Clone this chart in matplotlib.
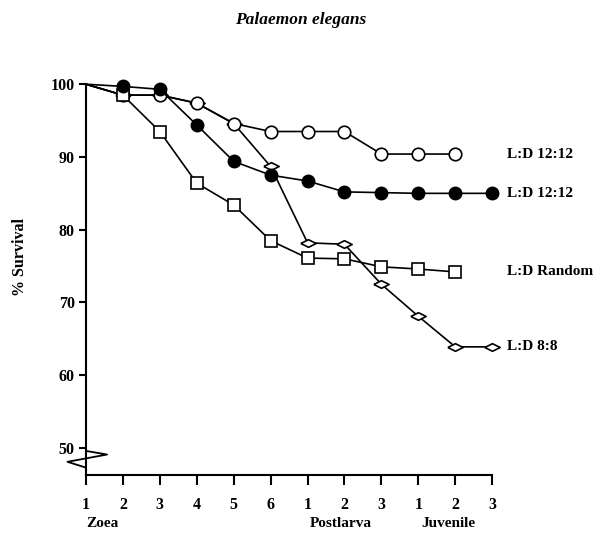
import matplotlib
matplotlib.use("Agg")
import matplotlib.pyplot as plt
import numpy as np

# stages along the x axis
stage = np.arange(1, 13)
tick_labels = ["1", "2", "3", "4", "5", "6", "1", "2", "3", "1", "2", "3"]

# % survival
open_circ = [100, 98.5, 98.5, 97.4, 94.6, 93.5, 93.5, 93.5, 90.4, 90.4, 90.4]
filled_circ = [100, 99.7, 99.3, 94.4, 89.4, 87.5, 86.7, 85.2, 85.1, 85.0, 85.0, 85.0]
squares = [100, 98.5, 93.5, 86.4, 83.4, 78.5, 76.1, 76.0, 74.9, 74.6, 74.2]
diamonds = [100, 98.5, 98.5, 97.4, 94.6, 88.7, 78.2, 78.0, 72.5, 68.1, 63.9, 63.9]

labels = ["L:D 12:12", "L:D 12:12", "L:D Random", "L:D 8:8"]

plt.rcParams['font.family'] = ['Liberation Serif', 'DejaVu Serif']
plt.rcParams['font.weight'] = 'bold'

fig = plt.figure(figsize=(6.01, 5.33), dpi=100)
ax = fig.add_axes([0.143, 0.109, 0.676, 0.733])

# flattened diamond marker
flat_diamond = [(-1, 0), (0, 0.5), (1, 0), (0, -0.5), (-1, 0)]

lw = 1.2
# first point (100 %) is shared, no marker drawn there
ax.plot(stage[:len(diamonds)], diamonds, color='black', lw=lw, marker=flat_diamond,
        ms=11, mfc='white', mec='black', mew=1.2, markevery=slice(1, None),
        clip_on=False, zorder=2)
ax.plot(stage[:len(open_circ)], open_circ, color='black', lw=lw, marker='o',
        ms=9, mfc='white', mec='black', mew=1.2, markevery=slice(1, None),
        clip_on=False, zorder=3)
ax.plot(stage[:len(squares)], squares, color='black', lw=lw, marker='s',
        ms=9, mfc='white', mec='black', mew=1.2, markevery=slice(1, None),
        clip_on=False, zorder=4)
ax.plot(stage[:len(filled_circ)], filled_circ, color='black', lw=lw, marker='o',
        ms=9, mfc='black', mec='black', markevery=slice(1, None),
        clip_on=False, zorder=5)

# series labels on the right
for lab, s in zip(labels, [open_circ, filled_circ, squares, diamonds]):
    ax.text(12.4, s[-1], lab, fontsize=11, fontweight='bold', va='center',
            ha='left', clip_on=False)

ax.set_xlim(1, 12)
ax.set_ylim(46.3, 100)
ax.set_xticks(stage)
ax.set_xticklabels(tick_labels)
ax.set_yticks([50, 60, 70, 80, 90, 100])

for sp in ['top', 'right']:
    ax.spines[sp].set_visible(False)
for sp in ['left', 'bottom']:
    ax.spines[sp].set_linewidth(1.5)

ax.tick_params(axis='x', direction='out', length=7, width=1.5, pad=9, labelsize=11.5)
ax.tick_params(axis='y', direction='out', length=5, width=1.5, pad=3, labelsize=11.5)
for t in ax.get_xticklabels() + ax.get_yticklabels():
    t.set_fontweight('bold')

# axis break symbol near 50
ax.plot([1, 1.57, 0.5, 1], [49.6, 49.1, 48.1, 47.3], color='black', lw=1.3,
        clip_on=False, zorder=6)

# stage group names
ax.text(1, -0.125, "Zoea", transform=ax.get_xaxis_transform(), ha='left',
        va='center', fontsize=11, fontweight='bold')
ax.text(7.9, -0.125, "Postlarva", transform=ax.get_xaxis_transform(), ha='center',
        va='center', fontsize=11, fontweight='bold')
ax.text(10.8, -0.125, "Juvenile", transform=ax.get_xaxis_transform(), ha='center',
        va='center', fontsize=11, fontweight='bold')

ax.set_ylabel("% Survival", fontsize=11.5, fontweight='bold')
ax.yaxis.set_label_coords(-0.143, 0.558)

fig.text(0.5, 0.962, "Palaemon elegans", ha='center', va='center',
         fontsize=12.5, fontweight='bold', fontstyle='italic')

fig.savefig("out.png", dpi=100)
